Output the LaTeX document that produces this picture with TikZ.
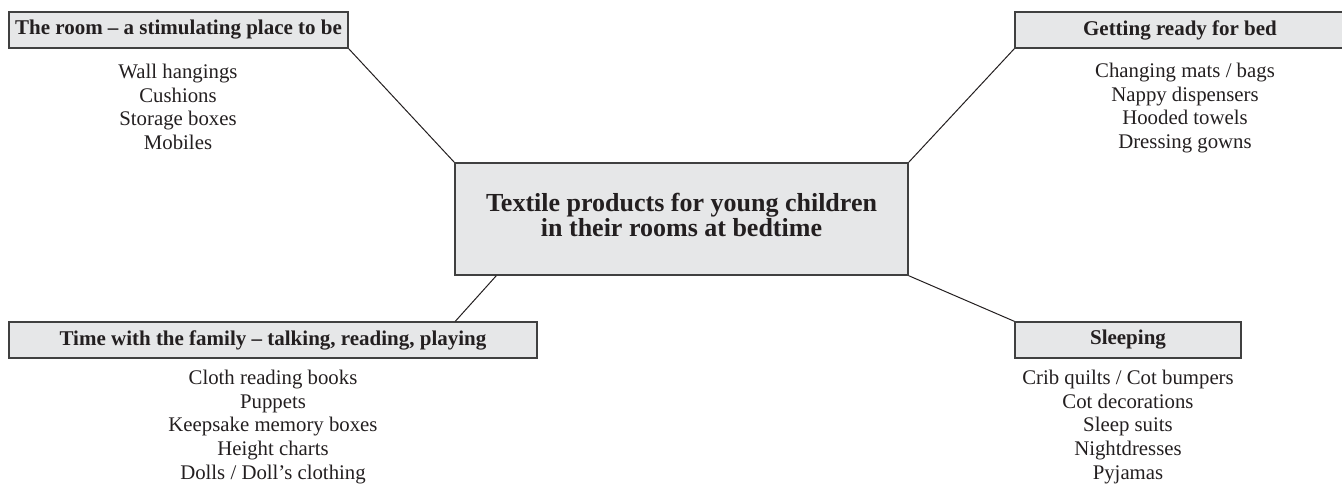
\documentclass[tikz,border=0pt]{standalone}
\usepackage{fontspec}
\setmainfont{Liberation Serif}
\definecolor{boxfill}{HTML}{E6E7E8}
\definecolor{boxline}{HTML}{404040}
\definecolor{ink}{HTML}{231F20}
\begin{document}
\begin{tikzpicture}[x=1pt,y=-1pt,
  titlebox/.style={draw=boxline, line width=1.4pt, fill=boxfill, inner sep=0pt,
    minimum height=36pt, font=\fontsize{21}{24}\selectfont\bfseries, text=ink},
  hubbox/.style={draw=boxline, line width=1.4pt, fill=boxfill, inner sep=0pt,
    align=center, text depth=8pt, font=\fontsize{26}{24.5}\selectfont\bfseries, text=ink},
  items/.style={align=center, anchor=north, inner sep=0pt,
    font=\fontsize{20.8}{23.6}\selectfont, text=ink},
  link/.style={draw=ink, line width=1pt}]
\useasboundingbox (0,0) rectangle (1342,483);

\node[hubbox, minimum width=453pt, minimum height=112pt] (hub) at (681.5,219)
  {Textile products for young children\\in their rooms at bedtime};

\node[titlebox, minimum width=339pt] (room) at (178.5,30) {The room – a stimulating place to be};
\node[titlebox, minimum width=330pt] (bed) at (1180,30) {Getting ready for bed};
\node[titlebox, minimum width=528pt] (family) at (273,340) {Time with the family – talking, reading, playing};
\node[titlebox, minimum width=226pt] (sleep) at (1128,340) {Sleeping};

\node[items] (roomitems) at (178,64) {Wall hangings\\Cushions\\Storage boxes\\Mobiles};
\node[items] (beditems) at (1185,63) {Changing mats / bags\\Nappy dispensers\\Hooded towels\\Dressing gowns};
\node[items] (familyitems) at (273,370) {Cloth reading books\\Puppets\\Keepsake memory boxes\\Height charts\\Dolls / Doll’s clothing};
\node[items] (sleepitems) at (1128,370) {Crib quilts / Cot bumpers\\Cot decorations\\Sleep suits\\Nightdresses\\Pyjamas};

\draw[link] (room.south east) -- (hub.north west);
\draw[link] (bed.south west) -- (hub.north east);
\draw[link] ([xshift=42pt]hub.south west) -- ([xshift=447pt]family.north west);
\draw[link] (hub.south east) -- (sleep.north west);
\end{tikzpicture}
\end{document}
